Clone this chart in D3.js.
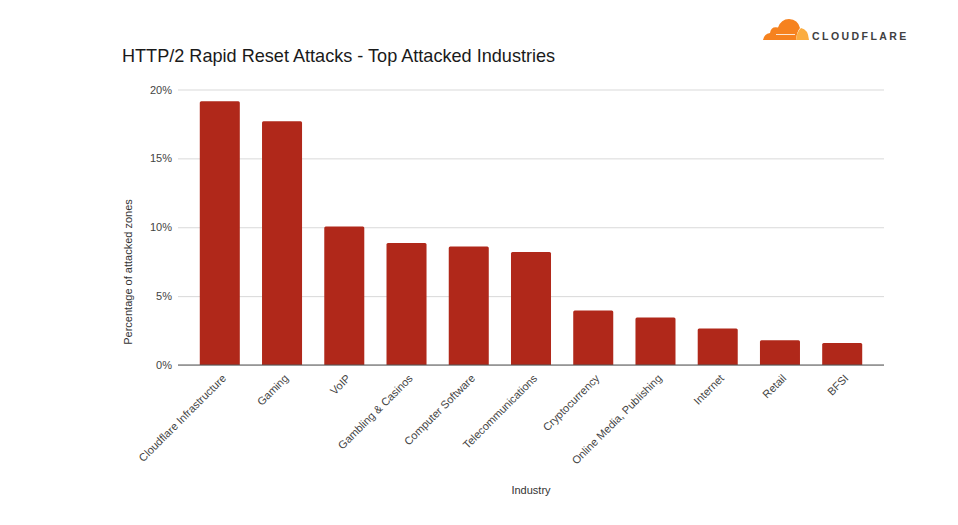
<!DOCTYPE html>
<html>
<head>
<meta charset="utf-8">
<script src="https://cdn.jsdelivr.net/npm/d3@7"></script>
<style>
  html, body { margin: 0; padding: 0; background: #fff; }
  svg { display: block; font-family: "Liberation Sans", Arial, sans-serif; }
</style>
</head>
<body>
<svg id="chart" width="958" height="525"></svg>
<script>
const industries = ["Cloudflare Infrastructure", "Gaming", "VoIP", "Gambling & Casinos", "Computer Software",
  "Telecommunications", "Cryptocurrency", "Online Media, Publishing", "Internet", "Retail", "BFSI"];
const shares = [19.15, 17.7, 10.05, 8.85, 8.6, 8.2, 3.95, 3.45, 2.65, 1.8, 1.6];
const yTicks = [0, 5, 10, 15, 20];

const svg = d3.select("#chart");
const margin = { top: 89.5, right: 74, bottom: 160, left: 178 };
const width = 958, height = 525;

const x = d3.scaleBand().domain(industries)
  .range([margin.left, width - margin.right])
  .paddingInner(0.357).paddingOuter(0.35);
const y = d3.scaleLinear().domain([0, 20]).range([height - margin.bottom, margin.top]);

// title
svg.append("text").attr("x", 122).attr("y", 61.5)
  .attr("font-size", 18.1).attr("fill", "#1a1a1a")
  .text("HTTP/2 Rapid Reset Attacks - Top Attacked Industries");

// grid and y labels
const yAxis = d3.axisLeft(y).tickValues(yTicks).tickFormat(d => d + "%")
  .tickSize(-(width - margin.left - margin.right)).tickPadding(6);
svg.append("g").attr("transform", `translate(${margin.left},0)`).call(yAxis)
  .call(g => g.select(".domain").remove())
  .call(g => g.selectAll(".tick line").attr("stroke", "#d9d9d9").attr("stroke-width", 1))
  .call(g => g.selectAll(".tick text").attr("font-size", 11).attr("fill", "#444")
    .attr("font-family", "Liberation Sans, Arial, sans-serif"));

// bars, rounded at the top only
svg.append("g").selectAll("path").data(industries).join("path")
  .attr("fill", "#b0281a")
  .attr("d", (d, i) => {
    const x0 = x(d), w = x.bandwidth(), y0 = y(shares[i]), y1 = y(0), r = 1.5;
    return `M${x0},${y1}V${y0 + r}Q${x0},${y0} ${x0 + r},${y0}H${x0 + w - r}Q${x0 + w},${y0} ${x0 + w},${y0 + r}V${y1}Z`;
  });

// baseline
svg.append("line").attr("x1", margin.left).attr("x2", width - margin.right)
  .attr("y1", y(0)).attr("y2", y(0)).attr("stroke", "#555").attr("stroke-width", 1);

// x labels
const xAxis = d3.axisBottom(x).tickSize(0).tickPadding(0);
svg.append("g").attr("transform", `translate(0,${y(0)})`).call(xAxis)
  .call(g => g.select(".domain").remove())
  .call(g => g.selectAll(".tick text")
    .attr("font-size", 11).attr("fill", "#444").attr("text-anchor", "end")
    .attr("font-family", "Liberation Sans, Arial, sans-serif")
    .attr("x", 0).attr("y", 0).attr("dy", 0)
    .attr("transform", "translate(7,14) rotate(-45)"));

// axis titles
svg.append("text").attr("x", 531).attr("y", 494).attr("text-anchor", "middle")
  .attr("font-size", 11).attr("fill", "#333").text("Industry");
svg.append("text").attr("transform", "translate(132,272) rotate(-90)").attr("text-anchor", "middle")
  .attr("font-size", 11).attr("fill", "#333").text("Percentage of attacked zones");

// logo
const logo = svg.append("g");
logo.append("path").attr("fill", "#f6821f")
  .attr("d", "M763,40 Q764,34 770,33 Q771,26 778,27.5 Q781,19 789,19 Q798,19.5 800,28 Q797,31 796,40 Z");
logo.append("path").attr("fill", "#fbad41")
  .attr("d", "M796,40 Q797,31 801,28 Q808,29 809,40 Z");
logo.append("line").attr("x1", 776).attr("x2", 795).attr("y1", 34.5).attr("y2", 34.5)
  .attr("stroke", "#fff").attr("stroke-width", 0.8);
logo.append("text").attr("x", 812).attr("y", 39.8)
  .attr("font-size", 10.5).attr("font-weight", "bold").attr("letter-spacing", 2.45).attr("fill", "#404041")
  .text("CLOUDFLARE");
</script>
</body>
</html>
